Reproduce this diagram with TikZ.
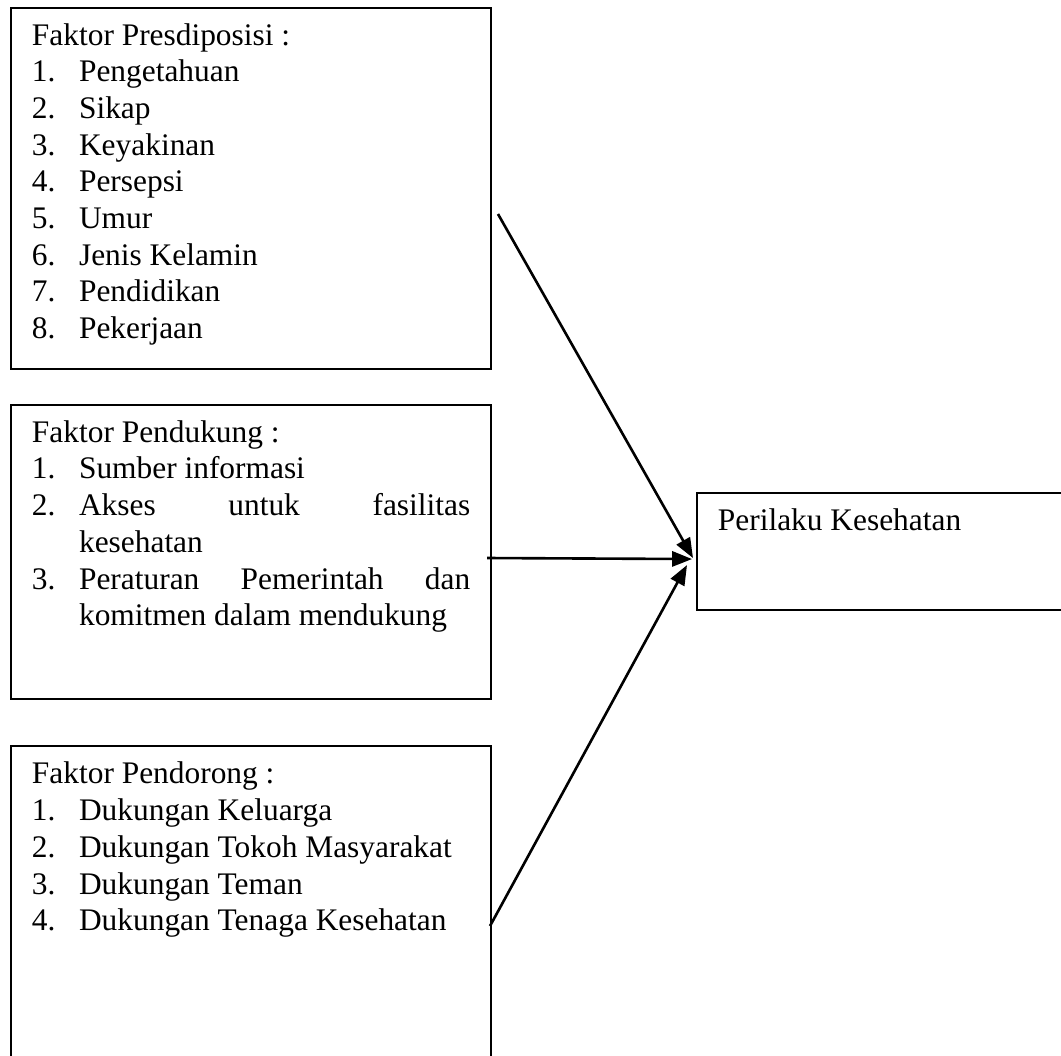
\documentclass[tikz,border=0pt]{standalone}
\usepackage{fontspec}
\setmainfont{Liberation Serif}
\usetikzlibrary{arrows.meta, positioning, calc}
\tikzset{
  factor/.style={rectangle, draw, line width=0.8pt, anchor=north west,
                 inner xsep=8pt, inner ysep=4.5pt, align=left,
                 font=\fontsize{12}{14.03}\selectfont},
  arrow/.style={-{Triangle[length=7.6pt, width=5.8pt]}, line width=1pt},
}
\newcommand{\faktoritem}[2]{\par\hangindent=18pt\hangafter=1\noindent\makebox[18pt][l]{#1}#2}

\begin{document}
\begin{tikzpicture}[x=0.3822pt, y=-0.3822pt]
    \useasboundingbox (0,0) rectangle (1061,1055);

    % faktor boxes
    \node[factor] (predisposisi) at (10,6.5) {\parbox[t][129pt][t]{167.5pt}{\strut Faktor Presdiposisi :
      \faktoritem{1.}{Pengetahuan}
      \faktoritem{2.}{Sikap}
      \faktoritem{3.}{Keyakinan}
      \faktoritem{4.}{Persepsi}
      \faktoritem{5.}{Umur}
      \faktoritem{6.}{Jenis Kelamin}
      \faktoritem{7.}{Pendidikan}
      \faktoritem{8.}{Pekerjaan}}};
    \node[factor, below=13pt of predisposisi.south west, anchor=north west] (pendukung)
      {\parbox[t][103.6pt][t]{167.5pt}{\tolerance=10000\hyphenpenalty=10000\strut Faktor Pendukung :
      \faktoritem{1.}{Sumber informasi}
      \faktoritem{2.}{Akses untuk fasilitas\linebreak kesehatan}
      \faktoritem{3.}{Peraturan Pemerintah dan\linebreak komitmen dalam mendukung}}};
    \node[factor, below=17.2pt of pendukung.south west, anchor=north west] (pendorong)
      {\parbox[t][118.7pt][t]{167.5pt}{\strut Faktor Pendorong :
      \faktoritem{1.}{Dukungan Keluarga}
      \faktoritem{2.}{Dukungan Tokoh Masyarakat}
      \faktoritem{3.}{Dukungan Teman}
      \faktoritem{4.}{Dukungan Tenaga Kesehatan}}};

    % outcome
    \node[factor] (perilaku) at (696,492) {\parbox[t][35.7pt][t]{130.8pt}{\strut Perilaku Kesehatan}};

    \coordinate (out1) at (498,214);
    \coordinate (out2) at (487,558);
    \coordinate (out3) at (490,926);

    \draw[arrow] (out1) -- ([shift={(-3,6.5)}]perilaku.west);
    \draw[arrow] (out2) -- ([shift={(-4,7.5)}]perilaku.west);
    \draw[arrow] (out3) -- ([shift={(-9,13.5)}]perilaku.west);
\end{tikzpicture}
\end{document}
